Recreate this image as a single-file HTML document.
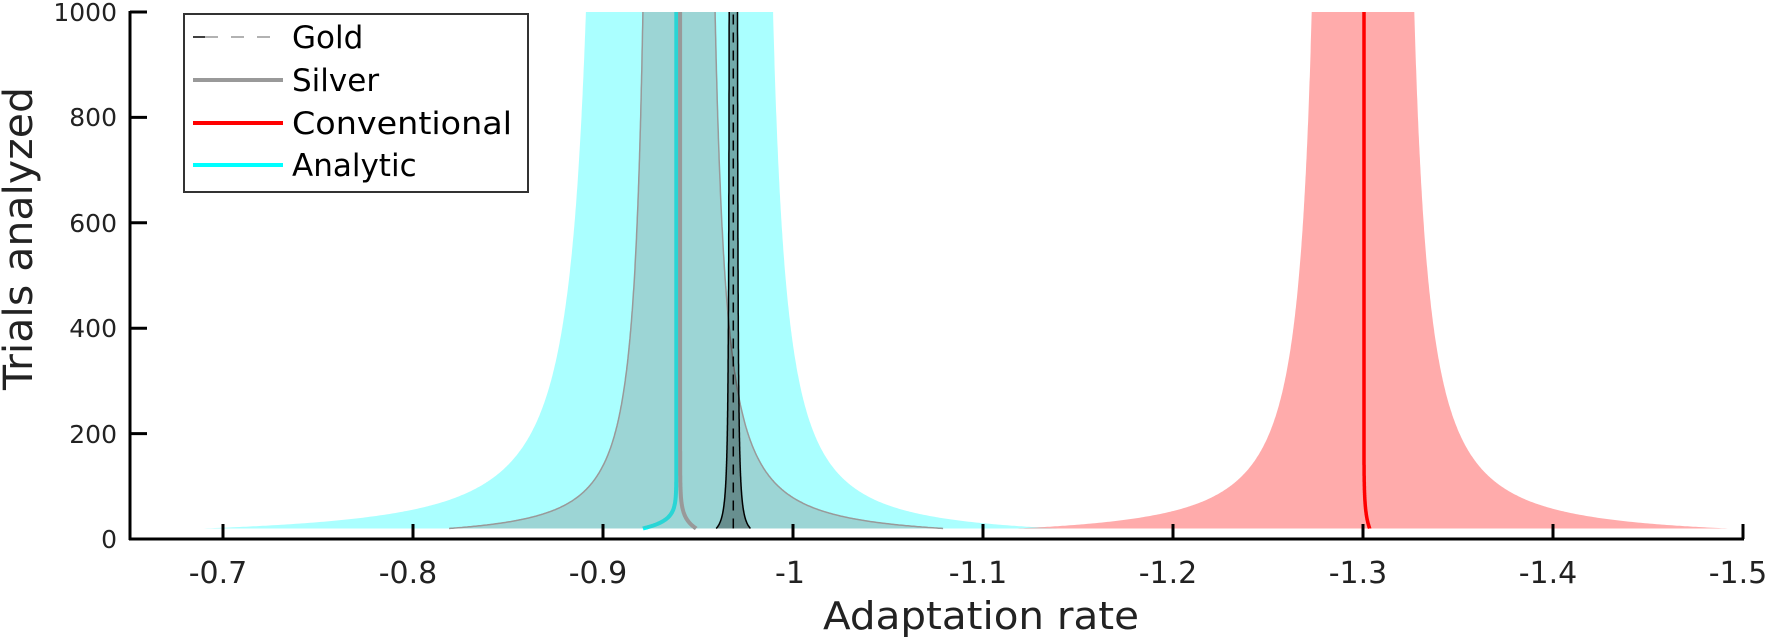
<!DOCTYPE html>
<html><head><meta charset="utf-8"><style>
html,body{margin:0;padding:0;background:#fff;}
svg{display:block;}
text{font-family:"DejaVu Sans","Liberation Sans",sans-serif;fill:#222;}
</style></head><body>
<svg id="s" xmlns="http://www.w3.org/2000/svg" width="1773" height="637" viewBox="0 0 1773 637">
<g id="plot"></g>
<line x1="130" y1="11" x2="130" y2="540" stroke="#000" stroke-width="3"/>
<line x1="129" y1="539" x2="1744" y2="539" stroke="#000" stroke-width="3"/>
<g stroke="#000" stroke-width="3">
<line x1="130" y1="12" x2="147" y2="12"/>
<line x1="130" y1="117.4" x2="147" y2="117.4"/>
<line x1="130" y1="222.8" x2="147" y2="222.8"/>
<line x1="130" y1="328.2" x2="147" y2="328.2"/>
<line x1="130" y1="433.6" x2="147" y2="433.6"/>
<line x1="223" y1="524" x2="223" y2="539"/>
<line x1="413" y1="524" x2="413" y2="539"/>
<line x1="603" y1="524" x2="603" y2="539"/>
<line x1="793" y1="524" x2="793" y2="539"/>
<line x1="983" y1="524" x2="983" y2="539"/>
<line x1="1173" y1="524" x2="1173" y2="539"/>
<line x1="1363" y1="524" x2="1363" y2="539"/>
<line x1="1553" y1="524" x2="1553" y2="539"/>
<line x1="1743" y1="524" x2="1743" y2="539"/>
</g>
<g font-size="25" text-anchor="end">
<text x="117" y="21">1000</text>
<text x="117" y="126">800</text>
<text x="117" y="232">600</text>
<text x="117" y="337">400</text>
<text x="117" y="443">200</text>
<text x="117" y="548">0</text>
</g>
<g font-size="30" text-anchor="middle">
<text x="218" y="583">-0.7</text>
<text x="408" y="583">-0.8</text>
<text x="598" y="583">-0.9</text>
<text x="790" y="583">-1</text>
<text x="978" y="583">-1.1</text>
<text x="1168" y="583">-1.2</text>
<text x="1358" y="583">-1.3</text>
<text x="1548" y="583">-1.4</text>
<text x="1738" y="583">-1.5</text>
</g>
<text x="823" y="629" font-size="38" textLength="316" lengthAdjust="spacingAndGlyphs">Adaptation rate</text>
<text transform="translate(32,390) rotate(-90)" font-size="40" textLength="303" lengthAdjust="spacingAndGlyphs">Trials analyzed</text>
<rect x="184" y="14" width="344" height="178" fill="#fff" stroke="#333" stroke-width="2"/>
<line x1="193" y1="37" x2="205" y2="37" stroke="#000" stroke-width="1.5"/>
<line x1="205" y1="37" x2="283" y2="37" stroke="#999" stroke-width="1.5" stroke-dasharray="13,13"/>
<line x1="193" y1="80" x2="283" y2="80" stroke="#999" stroke-width="4"/>
<line x1="193" y1="123" x2="283" y2="123" stroke="#f00" stroke-width="4"/>
<line x1="193" y1="165" x2="283" y2="165" stroke="#0ff" stroke-width="4"/>
<g font-size="31">
<text x="292" y="48" style="fill:#000">Gold</text>
<text x="292" y="91" style="fill:#000">Silver</text>
<text x="292" y="134" style="fill:#000" textLength="220" lengthAdjust="spacingAndGlyphs">Conventional</text>
<text x="292" y="176" style="fill:#000">Analytic</text>
</g>
</svg>
<script>
(function(){
var NS="http://www.w3.org/2000/svg";
var g=document.getElementById("plot");
function X(v){return 223+(-v-0.7)*1900;}
function Y(n){return 539-0.527*n;}
var N=[];for(var i=0;i<=300;i++){N.push(20*Math.pow(50,i/300));}
var P=0.7,f1=Math.pow(1000,-P),f0=Math.pow(20,-P);
function S(n){return (Math.pow(n,-P)-f1)/(f0-f1);}
function poly(pts,fill,stroke,sw,closed){
 var p=document.createElementNS(NS,closed?"polygon":"polyline");
 p.setAttribute("points",pts.join(" "));p.setAttribute("fill",fill||"none");
 if(stroke){p.setAttribute("stroke",stroke);p.setAttribute("stroke-width",sw);}
 g.appendChild(p);
}
function band(c,tL,bL,tR,bR,fill,stroke,sw){
 var L=[],R=[];
 N.forEach(function(n){var s=S(n);
  L.push(X(c+tL+(bL-tL)*s).toFixed(1)+","+Y(n).toFixed(1));
  R.push(X(c-tR-(bR-tR)*s).toFixed(1)+","+Y(n).toFixed(1));});
 poly(L.concat(R.slice().reverse()),fill,null,0,true);
 if(stroke){poly(L,null,stroke,sw);poly(R,null,stroke,sw);}
}
function line(fn,col,w,dash){
 var pts=[];N.forEach(function(n){pts.push(X(fn(n)).toFixed(1)+","+Y(n).toFixed(1));});
 var p=document.createElementNS(NS,"polyline");
 p.setAttribute("points",pts.join(" "));p.setAttribute("fill","none");
 p.setAttribute("stroke",col);p.setAttribute("stroke-width",w);
 if(dash)p.setAttribute("stroke-dasharray",dash);
 g.appendChild(p);
}
band(-0.9395,0.0485,0.2495,0.05,0.2,"#aaffff");
line(function(n){return -0.9386+0.0176*Math.exp(-(n-20)/15);},"#0ff",4);
band(-0.94,0.019,0.121,0.019,0.139,"rgba(128,128,128,0.33)","#999",1.5);
line(function(n){return -0.9406-0.0084*Math.exp(-(n-20)/20);},"#999",4);
band(-0.9686,0.0022,0.009,0.0022,0.009,"rgba(0,0,0,0.33)","#000",1.5);
line(function(n){return -0.9686;},"#000",1.5,"10,8");
band(-1.30,0.027,0.182,0.027,0.192,"rgba(255,0,0,0.33)");
line(function(n){return -1.3005-0.003*Math.exp(-(n-20)/30);},"#f00",3.5);
})();
</script>
</body></html>
